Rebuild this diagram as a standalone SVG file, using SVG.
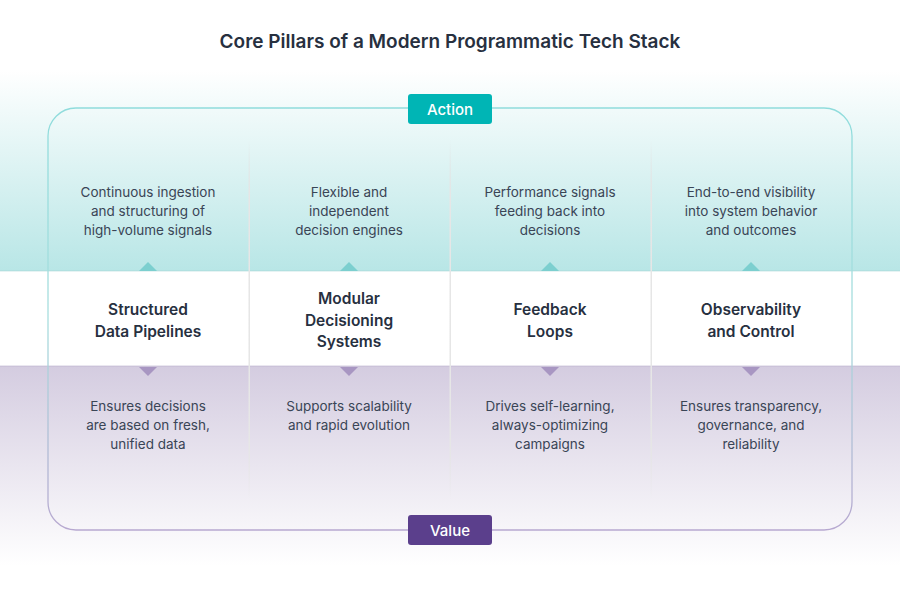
<svg xmlns="http://www.w3.org/2000/svg" width="900" height="602" viewBox="0 0 900 602">
<defs>
<linearGradient id="gt" x1="0" y1="0" x2="0" y2="1"><stop offset="0" stop-color="#ffffff"/><stop offset="1" stop-color="#b8e6e6"/></linearGradient>
<linearGradient id="gb" x1="0" y1="0" x2="0" y2="1"><stop offset="0" stop-color="#d4cce0"/><stop offset="1" stop-color="#ffffff"/></linearGradient>
<linearGradient id="gl" x1="0" y1="0" x2="1" y2="0"><stop offset="0" stop-color="#ccc" stop-opacity="0"/><stop offset="1" stop-color="#555"/></linearGradient>
<linearGradient id="gr" x1="0" y1="0" x2="1" y2="0"><stop offset="0" stop-color="#555"/><stop offset="1" stop-color="#ccc" stop-opacity="0"/></linearGradient>
<linearGradient id="gd" x1="0" y1="0" x2="0" y2="1"><stop offset="0" stop-color="#e0e0e0" stop-opacity="0"/><stop offset="0.15" stop-color="#e6e6e6"/><stop offset="0.85" stop-color="#e6e6e6"/><stop offset="1" stop-color="#e6e6e6" stop-opacity="0"/></linearGradient>
<linearGradient id="gf" x1="0" y1="0" x2="0" y2="1"><stop offset="0" stop-color="#8fdcdc"/><stop offset="0.5" stop-color="#a8dede"/><stop offset="1" stop-color="#b7a8d0"/></linearGradient>
</defs>
<style>
.t{font-family:Inter,"Noto Sans",sans-serif;font-size:13.5px;fill:#3a4556;text-anchor:middle}
.h{font-family:Inter,"Noto Sans",sans-serif;font-size:15.5px;font-weight:600;fill:#27303f;text-anchor:middle}
.b{font-family:Inter,"Noto Sans",sans-serif;font-size:15px;font-weight:500;fill:#fff;text-anchor:middle}
</style>
<rect width="900" height="602" fill="#fff"/>
<rect x="0" y="70" width="900" height="201" fill="url(#gt)"/>
<rect x="0" y="366" width="900" height="200" fill="url(#gb)"/>
<rect x="0" y="271" width="900" height="95" fill="#fff"/>
<line x1="0" y1="271" x2="900" y2="271" stroke="#9ccfd0" stroke-opacity="0.5"/>
<line x1="0" y1="366" x2="900" y2="366" stroke="#b9aecb" stroke-opacity="0.6"/>
<text x="450" y="48" font-family="Inter,'Noto Sans',sans-serif" font-size="19" font-weight="600" fill="#27303f" text-anchor="middle">Core Pillars of a Modern Programmatic Tech Stack</text>
<line x1="20" y1="42" x2="188" y2="42" stroke="url(#gl)"/>
<line x1="712" y1="42" x2="880" y2="42" stroke="url(#gr)"/>
<rect x="48" y="108" width="804" height="422" rx="28" fill="none" stroke="url(#gf)" stroke-width="1.3"/>
<g id="connectors">
<rect x="248.5" y="140" width="1.5" height="360" fill="url(#gd)"/>
<rect x="449.5" y="140" width="1.5" height="360" fill="url(#gd)"/>
<rect x="650.5" y="140" width="1.5" height="360" fill="url(#gd)"/>
<g fill="#7ccfcf"><path d="M139 271 L148 262 L157 271Z"/><path d="M340 271 L349 262 L358 271Z"/><path d="M541 271 L550 262 L559 271Z"/><path d="M742 271 L751 262 L760 271Z"/></g>
<g fill="#a896c2"><path d="M139 367 L148 376 L157 367Z"/><path d="M340 367 L349 376 L358 367Z"/><path d="M541 367 L550 376 L559 367Z"/><path d="M742 367 L751 376 L760 367Z"/></g>
</g>
<g id="action"><rect x="408" y="94" width="84" height="30" rx="3" fill="#00b5b5"/><text class="b" x="450" y="114.5">Action</text></g>
<g id="value"><rect x="408" y="515" width="84" height="30" rx="3" fill="#5b3f8c"/><text class="b" x="450" y="535.5">Value</text></g>
<g id="col1">
<text class="t" x="148" y="197">Continuous ingestion</text><text class="t" x="148" y="216">and structuring of</text><text class="t" x="148" y="235">high-volume signals</text>
<text class="h" x="148" y="315">Structured</text><text class="h" x="148" y="337">Data Pipelines</text>
<text class="t" x="148" y="411">Ensures decisions</text><text class="t" x="148" y="430">are based on fresh,</text><text class="t" x="148" y="449">unified data</text>
</g>
<g id="col2">
<text class="t" x="349" y="197">Flexible and</text><text class="t" x="349" y="216">independent</text><text class="t" x="349" y="235">decision engines</text>
<text class="h" x="349" y="304">Modular</text><text class="h" x="349" y="326">Decisioning</text><text class="h" x="349" y="347">Systems</text>
<text class="t" x="349" y="411">Supports scalability</text><text class="t" x="349" y="430">and rapid evolution</text>
</g>
<g id="col3">
<text class="t" x="550" y="197">Performance signals</text><text class="t" x="550" y="216">feeding back into</text><text class="t" x="550" y="235">decisions</text>
<text class="h" x="550" y="315">Feedback</text><text class="h" x="550" y="337">Loops</text>
<text class="t" x="550" y="411">Drives self-learning,</text><text class="t" x="550" y="430">always-optimizing</text><text class="t" x="550" y="449">campaigns</text>
</g>
<g id="col4">
<text class="t" x="751" y="197">End-to-end visibility</text><text class="t" x="751" y="216">into system behavior</text><text class="t" x="751" y="235">and outcomes</text>
<text class="h" x="751" y="315">Observability</text><text class="h" x="751" y="337">and Control</text>
<text class="t" x="751" y="411">Ensures transparency,</text><text class="t" x="751" y="430">governance, and</text><text class="t" x="751" y="449">reliability</text>
</g>
</svg>
